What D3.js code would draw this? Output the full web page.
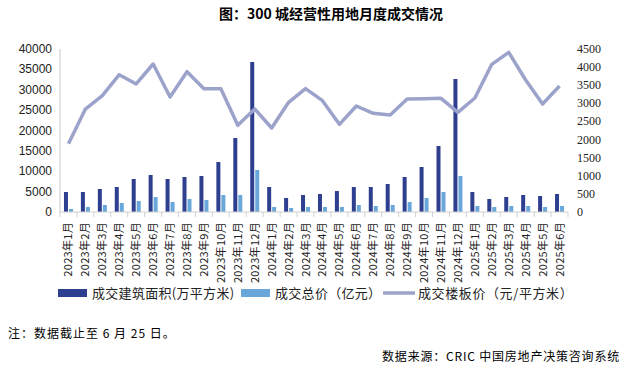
<!DOCTYPE html>
<html>
<head>
<meta charset="utf-8">
<script src="https://cdn.jsdelivr.net/npm/d3@7"></script>
<style>
  body { margin: 0; background: #fff; }
  text { font-family: "Noto Sans CJK SC", "Liberation Sans", sans-serif; }
</style>
</head>
<body>
<div id="chart"></div>
<script>
// months on the x axis
const months = ["2023年1月","2023年2月","2023年3月","2023年4月","2023年5月","2023年6月","2023年7月","2023年8月","2023年9月","2023年10月","2023年11月","2023年12月",
  "2024年1月","2024年2月","2024年3月","2024年4月","2024年5月","2024年6月","2024年7月","2024年8月","2024年9月","2024年10月","2024年11月","2024年12月",
  "2025年1月","2025年2月","2025年3月","2025年4月","2025年5月","2025年6月"];
// 成交建筑面积 (万平方米)
const areaData = [4900,4900,5650,6130,8100,9080,8100,8590,8830,12270,18160,36810,
  6130,3440,4170,4420,5150,6130,6130,6870,8590,11040,16200,32640,
  4900,3190,3680,4170,3930,4420];
// 成交总价 (亿元)
const totalData = [740,1230,1720,2210,2700,3680,2450,3190,2940,4170,4170,10310,
  1230,980,1230,1230,1230,1720,1470,1720,2450,3440,4910,8830,
  1470,1230,1470,1470,1230,1470];
// 成交楼板价 (元/平方米)
const priceData = [1886,2843,3212,3791,3534,4086,3175,3874,3405,3405,2393,2843,
  2319,3028,3405,3074,2420,2926,2724,2678,3120,3129,3138,2751,
  3147,4077,4408,3644,2982,3479];
const leftTicks = [0,5000,10000,15000,20000,25000,30000,35000,40000];
const rightTicks = [0,500,1000,1500,2000,2500,3000,3500,4000,4500];

const W = 631, H = 376;
const plot = {left: 60, right: 568, top: 49, bottom: 212};
const darkBlue = "#2f3f8f", lightBlue = "#69a7da", lineColor = "#9ca3cb";

const svg = d3.select("#chart").append("svg")
    .attr("width", W)
    .attr("height", H);

const x = d3.scaleBand().domain(months).range([plot.left, plot.right]);
const yL = d3.scaleLinear().domain([0, 40000]).range([plot.bottom, plot.top]);
const yR = d3.scaleLinear().domain([0, 4500]).range([plot.bottom, plot.top]);

// title
svg.append("text")
    .attr("x", 331).attr("y", 19)
    .attr("text-anchor", "middle")
    .style("font-size", "14px")
    .style("font-weight", "bold")
    .text("图：300 城经营性用地月度成交情况");

// left axis
svg.append("line")
    .attr("x1", plot.left).attr("x2", plot.left)
    .attr("y1", plot.top).attr("y2", plot.bottom)
    .attr("stroke", "#c8c8c8");
svg.selectAll("leftLabels")
    .data(leftTicks)
    .join("text")
    .attr("x", 52)
    .attr("y", d => yL(d) + 4)
    .attr("text-anchor", "end")
    .style("font-family", "Liberation Sans")
    .style("font-size", "12px")
    .attr("fill", "#222")
    .text(d => d);

// right axis labels
svg.selectAll("rightLabels")
    .data(rightTicks)
    .join("text")
    .attr("x", 577)
    .attr("y", d => yR(d) + 4)
    .style("font-family", "Liberation Serif")
    .style("font-size", "12px")
    .attr("fill", "#222")
    .text(d => d);

// bars
const bw = 4;
svg.selectAll("areaBars")
    .data(areaData)
    .join("rect")
    .attr("x", (d, i) => x(months[i]) + x.bandwidth() / 2 - bw - 0.5)
    .attr("y", d => yL(d))
    .attr("width", bw)
    .attr("height", d => plot.bottom - yL(d))
    .attr("fill", darkBlue);

svg.selectAll("totalBars")
    .data(totalData)
    .join("rect")
    .attr("x", (d, i) => x(months[i]) + x.bandwidth() / 2 + 0.5)
    .attr("y", d => yL(d))
    .attr("width", bw)
    .attr("height", d => plot.bottom - yL(d))
    .attr("fill", lightBlue);

// x axis
const xAxis = svg.append("g")
    .attr("transform", `translate(0,${plot.bottom})`);
xAxis.append("line")
    .attr("x1", plot.left).attr("x2", plot.right)
    .attr("stroke", "#d0d0d0");
xAxis.selectAll("ticks")
    .data(months.concat(["end"]))
    .join("line")
    .attr("x1", (d, i) => plot.left + i * x.step())
    .attr("x2", (d, i) => plot.left + i * x.step())
    .attr("y1", 0).attr("y2", 5)
    .attr("stroke", "#d0d0d0");
xAxis.selectAll("xLabels")
    .data(months)
    .join("text")
    .attr("transform", d => `translate(${x(d) + x.bandwidth() / 2 + 4},10) rotate(-90)`)
    .attr("text-anchor", "end")
    .style("font-size", "11px")
    .style("letter-spacing", "0.3px")
    .attr("fill", "#222")
    .text(d => d);

// price line
const line = d3.line()
    .x((d, i) => x(months[i]) + x.bandwidth() / 2)
    .y(d => yR(d));
svg.append("path")
    .datum(priceData)
    .attr("d", line)
    .attr("fill", "none")
    .attr("stroke", lineColor)
    .attr("stroke-width", 3.5)
    .attr("stroke-linejoin", "round");

// legend
const lg = svg.append("g").attr("transform", "translate(0,293)");
lg.append("rect").attr("x", 58).attr("y", -4).attr("width", 29).attr("height", 8).attr("fill", darkBlue);
lg.append("text").attr("x", 92).attr("y", 5).style("font-size", "13px").style("letter-spacing", "0.3px").attr("fill", "#222").text("成交建筑面积(万平方米)");
lg.append("rect").attr("x", 241).attr("y", -4).attr("width", 29).attr("height", 8).attr("fill", lightBlue);
lg.append("text").attr("x", 275).attr("y", 5).style("font-size", "13px").style("letter-spacing", "0.3px").attr("fill", "#222").text("成交总价（亿元）");
lg.append("line").attr("x1", 383).attr("x2", 415).attr("y1", 0).attr("y2", 0).attr("stroke", lineColor).attr("stroke-width", 3.5);
lg.append("text").attr("x", 418).attr("y", 5).style("font-size", "13px").style("letter-spacing", "0.6px").attr("fill", "#222").text("成交楼板价（元/平方米）");

// notes
svg.append("text")
    .attr("x", 8).attr("y", 338)
    .style("font-size", "12px")
    .style("letter-spacing", "1px")
    .text("注：数据截止至 6 月 25 日。");
svg.append("text")
    .attr("x", 620).attr("y", 361)
    .attr("text-anchor", "end")
    .style("font-size", "12px")
    .style("letter-spacing", "0.8px")
    .text("数据来源：CRIC 中国房地产决策咨询系统");
</script>
</body>
</html>
